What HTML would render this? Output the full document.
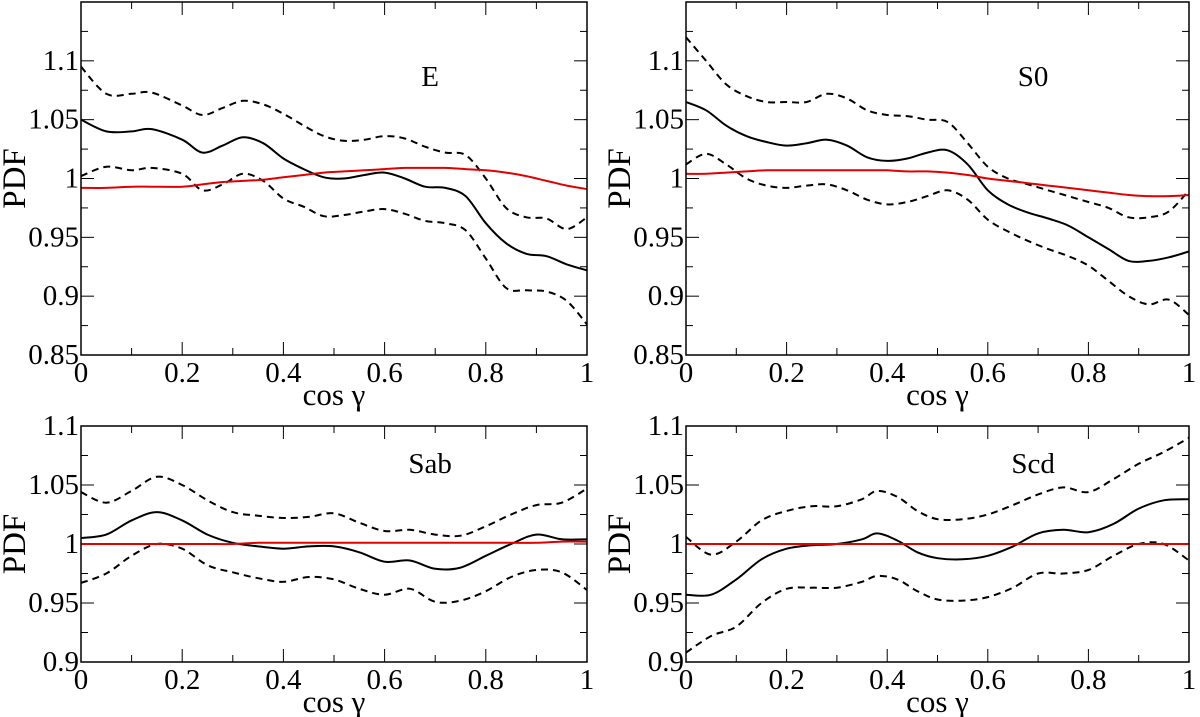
<!DOCTYPE html>
<html><head><meta charset="utf-8"><style>
html,body{margin:0;padding:0;background:#fff;}
svg{display:block;font-family:"Liberation Serif","DejaVu Serif",serif;}
svg text{font-family:"Liberation Serif","DejaVu Serif",serif;}
</style></head><body>
<svg id="c" width="1200" height="717" font-family="Liberation Serif, serif"></svg>
<script>
// ---- data ----
const E_x=[0,0.05,0.1,0.14,0.2,0.24,0.28,0.32,0.36,0.4,0.44,0.48,0.52,0.56,0.6,0.64,0.68,0.72,0.76,0.8,0.84,0.88,0.92,0.96,1.0];
const E_mid=[1.05,1.04,1.04,1.042,1.033,1.022,1.028,1.035,1.03,1.017,1.008,1.001,1.0,1.003,1.005,1.0,0.993,0.992,0.985,0.962,0.945,0.936,0.934,0.927,0.922];
const E_up=[1.095,1.072,1.072,1.073,1.062,1.054,1.06,1.066,1.063,1.055,1.045,1.036,1.032,1.033,1.036,1.034,1.027,1.022,1.02,1.0,0.975,0.967,0.966,0.957,0.967];
const E_lo=[1.002,1.01,1.007,1.009,1.004,0.99,0.995,1.004,0.998,0.983,0.976,0.968,0.969,0.972,0.974,0.97,0.964,0.962,0.956,0.932,0.907,0.905,0.904,0.896,0.876];
const E_red=[0.992,0.992,0.993,0.993,0.993,0.995,0.997,0.998,0.999,1.001,1.003,1.005,1.006,1.007,1.008,1.009,1.009,1.009,1.008,1.007,1.005,1.002,0.998,0.994,0.991];

const S0_x=[0,0.04,0.08,0.12,0.16,0.2,0.24,0.28,0.32,0.36,0.4,0.44,0.48,0.52,0.56,0.6,0.64,0.68,0.72,0.76,0.8,0.84,0.88,0.92,0.96,1.0];
const S0_mid=[1.065,1.058,1.045,1.036,1.031,1.028,1.03,1.033,1.028,1.018,1.015,1.017,1.022,1.024,1.012,0.99,0.978,0.971,0.966,0.96,0.95,0.94,0.93,0.93,0.933,0.938];
const S0_up=[1.12,1.1,1.08,1.07,1.065,1.065,1.065,1.072,1.068,1.058,1.054,1.053,1.05,1.048,1.03,1.01,1.0,0.995,0.99,0.985,0.98,0.975,0.967,0.967,0.972,0.99];
const S0_lo=[1.012,1.021,1.012,1.0,0.994,0.992,0.994,0.995,0.99,0.982,0.978,0.98,0.985,0.99,0.982,0.965,0.955,0.947,0.94,0.934,0.926,0.913,0.9,0.893,0.897,0.884];
const S0_red=[1.004,1.004,1.005,1.006,1.007,1.007,1.007,1.007,1.007,1.007,1.007,1.006,1.006,1.005,1.003,1.0,0.998,0.996,0.994,0.992,0.99,0.988,0.986,0.985,0.985,0.986];

const Sab_x=[0,0.05,0.1,0.15,0.2,0.25,0.3,0.35,0.4,0.45,0.5,0.55,0.6,0.65,0.7,0.75,0.8,0.85,0.9,0.95,1.0];
const Sab_mid=[1.005,1.008,1.02,1.027,1.02,1.008,1.001,0.998,0.996,0.998,0.998,0.993,0.985,0.986,0.979,0.98,0.99,1.0,1.008,1.004,1.004];
const Sab_up=[1.044,1.035,1.045,1.057,1.05,1.037,1.027,1.024,1.022,1.023,1.026,1.018,1.011,1.012,1.008,1.007,1.015,1.025,1.033,1.035,1.047];
const Sab_lo=[0.967,0.975,0.99,1.0,0.996,0.982,0.976,0.971,0.968,0.972,0.97,0.962,0.957,0.962,0.951,0.952,0.96,0.972,0.978,0.976,0.961];
const Sab_red=[1.0,1.0,1.0,1.0,1.0,1.0,1.0,1.001,1.001,1.001,1.001,1.001,1.001,1.001,1.001,1.001,1.001,1.001,1.001,1.002,1.002];

const Scd_x=[0,0.05,0.1,0.15,0.2,0.25,0.3,0.35,0.38,0.42,0.46,0.5,0.55,0.6,0.65,0.7,0.75,0.8,0.85,0.9,0.95,1.0];
const Scd_mid=[0.957,0.957,0.97,0.987,0.996,0.999,1.0,1.004,1.009,1.003,0.993,0.988,0.987,0.99,0.998,1.009,1.012,1.01,1.017,1.03,1.037,1.038];
const Scd_up=[1.006,0.991,1.002,1.02,1.028,1.032,1.032,1.038,1.045,1.04,1.028,1.021,1.021,1.025,1.033,1.042,1.048,1.044,1.055,1.068,1.078,1.09];
const Scd_lo=[0.908,0.922,0.93,0.95,0.962,0.963,0.963,0.968,0.973,0.97,0.96,0.953,0.952,0.955,0.963,0.975,0.975,0.978,0.99,1.0,1.0,0.986];
const Scd_red=[1.0,1.0,1.0,1.0,1.0,1.0,1.0,1.0,1.0,1.0,1.0,1.0,1.0,1.0,1.0,1.0,1.0,1.0,1.0,1.0,1.0,1.0];

const xTicks=["0","0.2","0.4","0.6","0.8","1"];
const yTicksTop=["0.85","0.9","0.95","1","1.05","1.1"];
const yTicksBot=["0.9","0.95","1","1.05","1.1"];

const NS="http://www.w3.org/2000/svg";
const svg=document.getElementById('c');
const FF='"Liberation Serif", serif';
function mk(tag,attrs,parent){const e=document.createElementNS(NS,tag);for(const k in attrs)e.setAttribute(k,attrs[k]);if(tag==='text')e.style.fontFamily=FF;(parent||svg).appendChild(e);return e;}

function smooth(pts){
  let d="M"+pts[0][0].toFixed(1)+","+pts[0][1].toFixed(1);
  for(let i=0;i<pts.length-1;i++){
    const p0=pts[Math.max(0,i-1)],p1=pts[i],p2=pts[i+1],p3=pts[Math.min(pts.length-1,i+2)];
    const c1=[p1[0]+(p2[0]-p0[0])/6,p1[1]+(p2[1]-p0[1])/6];
    const c2=[p2[0]-(p3[0]-p1[0])/6,p2[1]-(p3[1]-p1[1])/6];
    d+="C"+c1[0].toFixed(1)+","+c1[1].toFixed(1)+" "+c2[0].toFixed(1)+","+c2[1].toFixed(1)+" "+p2[0].toFixed(1)+","+p2[1].toFixed(1);
  }
  return d;
}

function panel(name,label,L,R,T,B,ymin,ymax,yTicks,xs,mid,up,lo,red){
  const g=mk('g',{});
  
  
  const X=v=>L+(R-L)*v;
  const Y=v=>B-(B-T)*(v-ymin)/(ymax-ymin);
  for(let i=0;i<=10;i++){
    const x=X(i/10),len=(i%2==0)?13:7;
    mk('line',{x1:x,y1:B,x2:x,y2:B-len,stroke:'#000','stroke-width':1},g);
    mk('line',{x1:x,y1:T,x2:x,y2:T+len,stroke:'#000','stroke-width':1},g);
  }
  for(let v=ymin;v<=ymax+1e-9;v+=0.025){
    const y=Y(v),major=Math.abs(Math.round(v/0.05)*0.05-v)<1e-6,len=major?13:7;
    mk('line',{x1:L,y1:y,x2:L+len,y2:y,stroke:'#000','stroke-width':1},g);
    mk('line',{x1:R,y1:y,x2:R-len,y2:y,stroke:'#000','stroke-width':1},g);
  }
  xTicks.forEach(t=>{
    const tx=mk('text',{x:X(parseFloat(t)),y:B+27,'text-anchor':'middle','font-size':29},g);
    tx.textContent=t;
    
    
  });
  yTicks.forEach(t=>{
    const tx=mk('text',{x:L-2,y:Y(parseFloat(t))+9,'text-anchor':'end','font-size':29},g);
    tx.textContent=t;
    
    
  });
  const xt=mk('text',{x:(L+R)/2,y:B+50,'text-anchor':'middle','font-size':31},g);
  xt.textContent='cos γ';
  
  
  const yt=mk('text',{x:0,y:0,'text-anchor':'middle','font-size':33,transform:`translate(${L-56},${(T+B)/2}) rotate(-90)`},g);
  yt.textContent='PDF';
  
  
  const pl=mk('text',{x:L+(R-L)*0.69,y:T+(T<100?84:47),'text-anchor':'middle','font-size':29},g);
  pl.textContent=label;
  
  
  const clip=mk('clipPath',{id:'cl'+name},g);
  mk('rect',{x:L,y:T,width:R-L,height:B-T},clip);
  const lines=[[up,'#000','7,5','upper-dashed-line'],[lo,'#000','7,5','lower-dashed-line'],[mid,'#000','','solid-line'],[red,'#e00000','','red-line']];
  lines.forEach(([arr,col,dash,nm])=>{
    const pts=xs.map((x,i)=>[X(x),Y(arr[i])]);
    const p=mk('path',{d:smooth(pts),fill:'none',stroke:col,'stroke-width':2,'stroke-dasharray':dash,'clip-path':`url(#cl${name})`},g);
    
    
  });
  mk('rect',{x:L,y:T,width:R-L,height:B-T,fill:'none',stroke:'#000','stroke-width':1.5},g);
}
panel('e','E',81,587,2,355,0.85,1.15,yTicksTop,E_x,E_mid,E_up,E_lo,E_red);
panel('s0','S0',686,1189,2,355,0.85,1.15,yTicksTop,S0_x,S0_mid,S0_up,S0_lo,S0_red);
panel('sab','Sab',81,587,426,662,0.9,1.1,yTicksBot,Sab_x,Sab_mid,Sab_up,Sab_lo,Sab_red);
panel('scd','Scd',686,1189,426,662,0.9,1.1,yTicksBot,Scd_x,Scd_mid,Scd_up,Scd_lo,Scd_red);
</script>
</body></html>
